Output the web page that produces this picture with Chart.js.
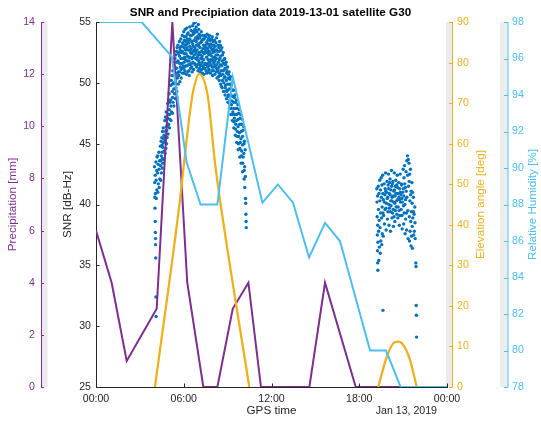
<!DOCTYPE html>
<html><head><meta charset="utf-8">
<script src="https://cdn.jsdelivr.net/npm/chart.js@4"></script>
<style>html,body{margin:0;padding:0;background:#fff}</style>
</head><body>
<canvas id="c" width="541" height="421" style="display:block;width:541px;height:421px"></canvas>
<script>
// ---------- data (hours since 00:00) ----------
const timeTickLabels = ['00:00', '06:00', '12:00', '18:00', '00:00'];
const dateLabel = 'Jan 13, 2019';

const precipHours = [0, 1.07, 2.1, 4.15, 5.22, 6.24, 7.34, 8.3, 9.35, 10.42, 11.28, 14.59, 15.66, 17.76, 20.9];
const precipMm    = [6.0, 4.0, 1.0, 3.0, 14.0, 4.0, 0, 0, 3.0, 4.0, 0, 0, 4.0, 0, 0];

const humidHours = [0, 3.12, 5.18, 6.2, 7.15, 8.3, 9.35, 11.38, 12.44, 13.47, 14.57, 15.66, 16.68, 18.74, 19.83, 20.83, 24];
const humidPct   = [98, 98, 96.1, 90.3, 88.0, 88.0, 95.0, 88.1, 89.1, 88.1, 85.1, 87.0, 86.0, 80.0, 80.0, 78.0, 78.0];

const elevHours = [4.03, 5.74, 6.02, 6.54, 6.77, 7.05, 7.45, 7.68, 8.14, 8.48, 10.48, null, 19.3, 19.88, 20.33, 20.67, 21.01, 21.47, 21.93];
const elevDeg   = [0, 46.1, 55.2, 70.8, 74.9, 77.2, 74.9, 70.8, 55.2, 46.1, 0, null, 0, 7.4, 10.8, 11.2, 10.4, 6.7, 0];

// SNR samples: [hour, [SNR values recorded in the few minutes after that hour]]
const snrColumns = [
 [4.00,[43.1,41.8,40.6,39.7,38.6,37.7,36.7,35.6,32.4,30.8]],
 [4.05,[42.4,40.9,37.2]],[4.10,[43.5,42.0,40.5]],[4.15,[42.8,41.2,43.9]],[4.20,[44.0,42.6,41.0]],
 [4.25,[43.3,41.7]],[4.30,[44.3,42.9,41.4]],[4.35,[43.6,42.1]],[4.40,[44.8,43.2,42.0]],
 [4.45,[45.2,44.0,42.6]],[4.50,[45.5,44.3,43.0]],[4.55,[46.0,44.7,43.4]],[4.60,[46.3,45.1,43.7]],
 [4.65,[45.7,44.4]],[4.70,[46.9,45.6,44.2]],[4.75,[47.2,46.0,44.6]],[4.80,[47.6,46.4,45.0]],
 [4.85,[47.0,45.5]],[4.90,[48.3,47.1,45.8]],[4.95,[48.6,46.6]],[5.00,[49.1,47.8,46.3]],
 [5.05,[48.4,47.0]],[5.10,[49.8,48.6,46.9]],[5.15,[50.2,47.6]],[5.20,[50.6,49.3,47.5]],
 [5.25,[51.0,48.4]],[5.30,[51.4,50.0,48.1]],[5.35,[51.7,49.1]],[5.40,[52.0,50.6,48.7]],
 [5.45,[52.3,49.6]],[5.50,[52.6,51.2,49.3,48.8]],[5.55,[52.9,50.4]],[5.60,[53.1,51.8,49.9]],
 [5.65,[52.4,50.6]],[5.70,[53.4,52.2,50.9,50.1]],[5.75,[52.7,51.3]],[5.80,[53.6,52.0,50.4]],
 [5.85,[53.0,51.6]],[5.90,[53.9,52.6,50.8]],[5.95,[53.2,51.4]],[6.00,[54.2,52.9,51.7,50.8]],
 [6.05,[53.5,52.1,51.0]],[6.10,[54.4,53.1,51.9]],[6.15,[53.8,52.4,50.7]],[6.20,[54.5,52.9,51.4]],
 [6.25,[53.6,52.2,50.9]],[6.30,[54.1,52.7,51.5]],[6.35,[53.3,51.8,50.6]],[6.40,[54.6,53.0,52.1]],
 [6.45,[53.9,52.5,51.2]],[6.50,[54.3,52.8,51.6]],[6.55,[53.4,52.0,50.9]],[6.60,[54.7,53.2,51.7]],
 [6.65,[54.0,52.6,51.1]],[6.70,[54.9,53.5,52.3]],[6.75,[54.4,52.9,51.5]],[6.80,[55.0,53.7,52.0]],
 [6.85,[54.6,53.1,51.3]],[6.90,[54.2,52.7,51.9]],[6.95,[53.6,52.3,51.0]],[7.00,[54.8,53.2,51.8]],
 [7.05,[54.0,52.5,51.2]],[7.10,[53.7,52.9,50.9]],[7.15,[53.3,52.0,51.5]],[7.20,[54.2,52.6,51.1]],
 [7.25,[53.5,52.2,50.8]],[7.30,[53.9,52.8,51.4]],[7.35,[53.1,51.9,50.7]],[7.40,[53.6,52.4,51.2]],
 [7.45,[53.0,51.6]],[7.50,[53.8,52.6,51.0]],[7.55,[53.3,52.1,50.8]],[7.60,[54.0,52.5,51.3]],
 [7.65,[53.2,51.9,50.9]],[7.70,[53.7,52.3,51.1]],[7.75,[53.0,51.7]],[7.80,[53.5,52.4,50.8]],
 [7.85,[52.9,51.5]],[7.90,[53.6,52.2,51.0]],[7.95,[53.1,51.8,50.6]],[8.00,[53.4,52.5,51.3]],
 [8.05,[52.8,51.6]],[8.10,[53.5,52.1,50.7]],[8.15,[53.0,51.4]],[8.20,[53.3,52.3,50.9]],
 [8.25,[52.7,51.5,50.4]],[8.30,[54.0,52.6,51.1]],[8.35,[53.1,51.7,50.5]],[8.40,[52.9,51.3,50.2]],
 [8.45,[53.4,52.0,50.6]],[8.50,[53.1,51.5,49.9]],[8.55,[52.7,51.0,49.7]],[8.60,[52.9,51.4,49.6]],
 [8.65,[52.3,50.7]],[8.70,[52.5,51.0,49.3]],[8.75,[51.9,50.4]],[8.80,[52.0,50.5,49.0]],
 [8.85,[51.5,49.8]],[8.90,[51.7,50.2,48.7]],[8.95,[51.0,49.4]],[9.00,[51.3,49.9,48.4]],
 [9.05,[50.7,49.0]],[9.10,[50.9,49.5,47.9]],[9.15,[50.3,48.6]],[9.20,[50.5,49.0,47.4]],
 [9.25,[49.8,48.2]],[9.30,[50.0,48.5,46.9]],[9.35,[49.4,47.6]],[9.40,[49.4,47.9,46.3]],
 [9.45,[48.8,47.1]],[9.50,[49.0,47.4,45.7]],[9.55,[48.4,46.6]],[9.60,[48.6,46.9,45.1]],
 [9.65,[47.9,46.0]],[9.70,[48.2,46.4,44.5]],[9.75,[47.5,45.6]],[9.80,[47.8,45.9,43.9]],
 [9.85,[47.1,45.1]],[9.90,[47.4,45.4,43.4]],[9.95,[46.6,44.4]],[10.00,[47.0,44.9,42.7]],
 [10.05,[46.1,43.9]],[10.10,[46.4,44.2,42.1]],[10.15,[45.2,43.1,41.4]],[10.20,[44.5,42.3,40.5,40.1]],
 [10.25,[39.2,38.6,38.1]],
 [4.425,[43.6]],[4.525,[44.9,43.8]],[4.625,[45.4]],[4.725,[45.3]],[4.825,[46.1]],[4.925,[46.5,47.4]],
 [5.025,[47.4]],[5.125,[48.1]],[5.225,[49.9,48.8]],[5.325,[49.5,50.6]],[5.425,[51.2,49.9]],
 [5.525,[50.8,51.7]],[5.625,[52.5,50.9]],[5.725,[51.6,52.9]],[5.825,[51.1,52.5]],[5.925,[52.0,53.3,51.2]],
 [6.025,[52.4,53.8,51.3]],[6.125,[52.7,51.4,53.4]],[6.225,[53.2,51.8,54.0]],[6.325,[53.5,52.1,51.0]],
 [6.425,[53.6,51.5,52.7]],[6.525,[53.9,52.4,51.3]],[6.625,[54.2,52.1,53.0]],[6.725,[54.1,52.7,51.6]],
 [6.825,[54.3,52.5,53.4]],[6.925,[53.8,52.1,51.5]],[7.025,[54.4,53.0,51.6]],[7.125,[53.9,52.3,51.4]],
 [7.225,[53.4,52.0,51.7]],[7.325,[52.5,51.2,53.6]],[7.425,[52.8,51.5,53.9]],[7.525,[52.9,51.5,53.2]],
 [7.625,[52.8,51.6,53.5]],[7.725,[52.6,51.4,53.9]],[7.825,[53.2,51.9]],[7.925,[52.7,51.3,53.8]],
 [8.025,[52.0,51.0,53.1]],[8.125,[52.6,51.8]],[8.225,[52.0,51.2,53.7]],[8.325,[52.3,51.0]],
 [8.425,[51.9,52.6,50.8]],[8.525,[52.2,50.6]],[8.625,[51.8,50.2]],[8.725,[51.6,50.0]],
 [8.825,[51.2,49.6]],[8.925,[50.8,49.3]],[9.025,[50.4,48.9]],[9.125,[49.9,48.3]],
 [9.225,[49.5,47.9]],[9.325,[48.9,47.4]],[9.425,[48.4,46.8]],[9.525,[47.9,46.2]],
 [9.625,[47.4,45.6]],[9.725,[47.0,45.0]],[9.825,[46.6,44.6]],[9.925,[46.0,44.0]],
 [10.025,[45.6,43.4]],[10.125,[45.0,42.8]],
 [19.20,[41.3,40.2,39.0,37.5,36.2,35.2,34.6]],[19.25,[40.7,38.3,36.9]],[19.30,[41.5,39.6,37.8,35.4]],
 [19.35,[40.9,38.7,36.5]],[19.40,[42.0,40.3,38.1,36.0]],[19.45,[41.2,39.3,37.0]],
 [19.50,[42.2,40.6,38.9,36.7]],[19.55,[41.6,39.8,37.6]],[19.62,[31.3]],[19.60,[42.4,40.9,39.3,37.4]],
 [19.70,[41.7,40.2,38.4]],[19.80,[42.6,41.1,39.7,37.9]],[19.90,[41.9,40.5,38.8]],
 [20.00,[42.5,41.3,40.0,38.3]],[20.10,[42.1,40.8,39.4,37.8]],[20.20,[42.8,41.5,40.3,38.9]],
 [20.30,[41.9,40.7,39.6,38.2]],[20.40,[42.6,41.2,40.1,38.6]],[20.50,[42.0,40.9,39.8]],
 [20.60,[42.4,41.4,40.4,38.9]],[20.70,[41.8,40.6,39.5,38.3]],[20.80,[42.5,41.0,40.2]],
 [20.90,[41.6,40.5,39.1,38.0]],[21.00,[42.9,41.3,39.9,38.4]],[21.10,[43.2,41.7,40.0,37.6]],
 [21.20,[42.7,41.1,39.3,37.9]],[21.25,[43.6,40.6]],[21.30,[44.0,42.4,39.5,37.2]],[21.35,[43.7,41.5]],
 [21.40,[43.4,41.9,39.0,37.0]],[21.50,[42.9,40.8,38.6,36.6]],[21.60,[41.8,40.1,38.2,36.4]],
 [21.70,[40.6,39.4,37.5]],[21.80,[39.8,38.5,37.2]],[21.87,[35.2,34.9,31.7,30.9,29.1]],
 [19.65,[40.4,39.1]],[19.75,[40.8,39.6,41.3]],[19.85,[40.1,41.0]],[19.95,[40.6,39.4,41.6]],
 [20.05,[40.9,39.7,41.8]],[20.15,[40.3,41.2,39.9]],[20.25,[40.6,41.7,39.3]],[20.35,[40.2,41.1,39.0]],
 [20.45,[40.7,41.5,39.5]],[20.55,[40.3,41.6,39.2]],[20.65,[40.9,39.8]],[20.75,[40.4,41.3,39.1]],
 [20.85,[40.8,39.6,41.7]],[20.95,[40.2,41.0]],[21.05,[40.7,42.2,39.3]],[21.15,[41.4,40.4,38.8]],
 [21.45,[42.5,40.3,37.8]],[21.55,[41.1,39.4,37.4]],[21.65,[41.0,38.9]],[21.75,[39.2,37.8]]
];

// ---------- styling ----------
const FONT = '"Liberation Sans", Arial, Helvetica, sans-serif';
Chart.defaults.font.family = FONT;
const C = { purple:'#7E2F8E', orange:'#EDB120', sky:'#4DBEEE', blue:'#0072BD', axis:'#262626' };
const TICK = 10.6, LAB = 11.7;
const SAMPLE_STEP_H = 0.012; // successive samples inside a column are a little under a minute apart

const xy = (xs, ys) => xs.map((x, i) => ({x: x === null ? (xs[i-1] + xs[i+1]) / 2 : x, y: ys[i]}));
const snrPoints = [];
snrColumns.forEach(([h, vals]) => vals.forEach((v, j) => snrPoints.push({x: h + j * SAMPLE_STEP_H, y: v})));

const axesDecor = {
  id: 'axesDecor',
  beforeDraw(chart) {
    const {ctx, chartArea: a} = chart;
    ctx.save();
    ctx.fillStyle = '#EEE8F0'; ctx.fillRect(41.5, a.top, 6, a.bottom - a.top);
    ctx.fillStyle = '#EBEBEB'; ctx.fillRect(446, a.top, 6.5, a.bottom - a.top);
    ctx.fillStyle = '#EDEDED'; ctx.fillRect(500, a.top, 7.5, a.bottom - a.top);
    ctx.restore();
  },
  afterDraw(chart) {
    const {ctx, chartArea: a, scales: s} = chart;
    ctx.save();
    ctx.lineWidth = 1;
    const vTicks = (scale, x0, x1, color) => {
      ctx.strokeStyle = color; ctx.beginPath();
      scale.ticks.forEach(t => { const y = Math.round(scale.getPixelForValue(t.value)) + 0.5; ctx.moveTo(x0, y); ctx.lineTo(x1, y); });
      ctx.stroke();
    };
    vTicks(s.ySNR, a.left, a.left + 3.5, C.axis);
    vTicks(s.yPrec, 41, 44, C.purple);
    vTicks(s.yElev, 452.5, 449, C.orange);
    vTicks(s.yHum, 508, 504, C.sky);
    ctx.strokeStyle = C.axis; ctx.beginPath();
    s.x.ticks.forEach(t => { const x = Math.round(s.x.getPixelForValue(t.value)) + 0.5; ctx.moveTo(x, a.bottom); ctx.lineTo(x, a.bottom - 3.5); });
    ctx.stroke();
    ctx.strokeStyle = C.orange; ctx.beginPath(); ctx.moveTo(452.5, a.top); ctx.lineTo(452.5, a.bottom); ctx.stroke();
    ctx.strokeStyle = C.sky; ctx.beginPath(); ctx.moveTo(508, a.top); ctx.lineTo(508, a.bottom); ctx.stroke();
    const midY = (a.top + a.bottom) / 2;
    const vText = (txt, x, color) => {
      ctx.save(); ctx.translate(x, midY); ctx.rotate(-Math.PI / 2);
      ctx.fillStyle = color; ctx.font = LAB + 'px ' + FONT; ctx.textAlign = 'center'; ctx.textBaseline = 'middle';
      ctx.fillText(txt, 0, 0); ctx.restore();
    };
    vText('Elevation angle [deg]', 481, C.orange);
    vText('Relative Humidity [%]', 533, C.sky);
    ctx.fillStyle = C.axis; ctx.font = TICK + 'px ' + FONT; ctx.textAlign = 'right'; ctx.textBaseline = 'middle';
    ctx.fillText(dateLabel, 437, 411.5);
    ctx.restore();
  }
};

new Chart(document.getElementById('c'), {
  type: 'line',
  data: {
    datasets: [
      { label: 'Relative Humidity', data: xy(humidHours, humidPct), yAxisID: 'yHum', borderColor: C.sky, borderWidth: 2, pointRadius: 0, tension: 0, order: 0 },
      { label: 'Elevation angle', data: xy(elevHours, elevDeg), yAxisID: 'yElev', borderColor: C.orange, borderWidth: 2.3, pointRadius: 0, cubicInterpolationMode: 'monotone', spanGaps: false, order: 1 },
      { label: 'Precipitation', data: xy(precipHours, precipMm), yAxisID: 'yPrec', borderColor: C.purple, borderWidth: 2, pointRadius: 0, tension: 0, order: 2 },
      { type: 'scatter', label: 'SNR', data: snrPoints, yAxisID: 'ySNR', backgroundColor: C.blue, borderWidth: 0, pointRadius: 1.7, showLine: false, order: 3 }
    ]
  },
  options: {
    responsive: false, animation: false, devicePixelRatio: 1,
    layout: { padding: 0 },
    plugins: {
      legend: { display: false }, tooltip: { enabled: false },
      title: { display: true, text: 'SNR and Precipiation data 2019-13-01 satellite G30', color: '#000',
               font: { size: LAB, weight: 'bold' }, padding: { top: 6, bottom: 2 } }
    },
    scales: {
      x: { type: 'linear', position: 'bottom', min: 0, max: 24,
           ticks: { stepSize: 6, autoSkip: false, maxRotation: 0, padding: 6, color: C.axis, font: { size: TICK },
                    callback: v => timeTickLabels[Math.round(v / 6)] },
           grid: { display: false, drawTicks: false }, border: { display: true, color: C.axis, width: 1 },
           title: { display: true, text: 'GPS time', color: C.axis, font: { size: LAB }, padding: { top: 0, bottom: 3.5 } },
           afterFit: s => { s.height = 34; } },
      ySNR: { position: 'left', weight: 0, min: 25, max: 55,
           ticks: { stepSize: 5, padding: 5, color: C.axis, font: { size: TICK } },
           grid: { display: false, drawTicks: false }, border: { display: true, color: C.axis, width: 1 },
           title: { display: true, text: 'SNR [dB-Hz]', color: C.axis, font: { size: LAB }, padding: { top: 20 } },
           afterFit: s => { s.width = 55; } },
      yPrec: { position: 'left', weight: 1, min: 0, max: 14,
           ticks: { stepSize: 2, padding: 6, color: C.purple, font: { size: TICK } },
           grid: { display: false, drawTicks: false }, border: { display: true, color: C.purple, width: 1 },
           title: { display: true, text: 'Precipitation [mm]', color: C.purple, font: { size: LAB }, padding: { top: 6 } },
           afterFit: s => { s.width = 41; } },
      yElev: { position: 'right', weight: 0, min: 0, max: 90,
           ticks: { stepSize: 10, padding: 10, color: C.orange, font: { size: TICK } },
           grid: { display: false, drawTicks: false }, border: { display: false },
           afterFit: s => { s.width = 53; } },
      yHum: { position: 'right', weight: 1, min: 78, max: 98,
           ticks: { stepSize: 2, padding: 12, color: C.sky, font: { size: TICK } },
           grid: { display: false, drawTicks: false }, border: { display: false },
           afterFit: s => { s.width = 41; } }
    }
  },
  plugins: [axesDecor]
});
</script>
</body></html>
